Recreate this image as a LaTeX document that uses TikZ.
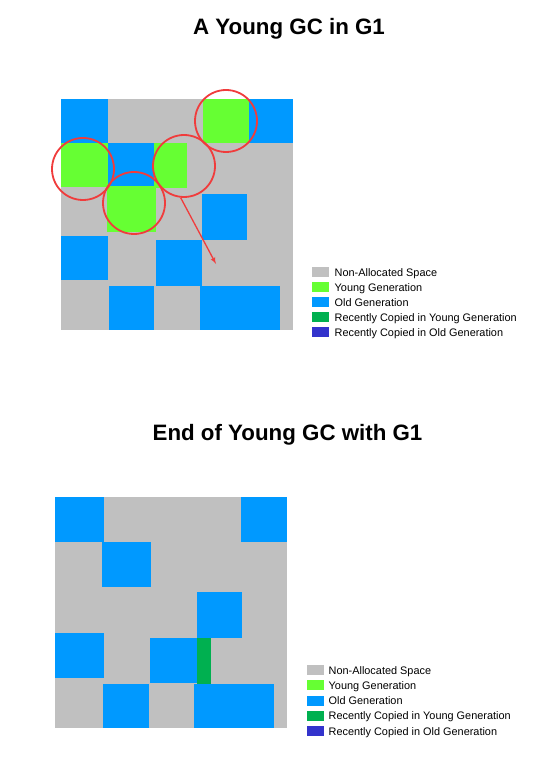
\documentclass[tikz,border=0pt]{standalone}
\usepackage{fontspec}
\setmainfont{Liberation Sans}
\usetikzlibrary{arrows}

\definecolor{freegray}{HTML}{C0C0C0}
\definecolor{younggreen}{HTML}{66FF33}
\definecolor{oldblue}{HTML}{0099FF}
\definecolor{copyyoung}{HTML}{00B050}
\definecolor{copyold}{HTML}{3333CC}
\definecolor{gcred}{HTML}{F03C3C}

\begin{document}
\begin{tikzpicture}
			[x=1pt,y=-1pt,every node/.style={inner sep=0pt},
			 title/.style={anchor=base,font=\fontsize{22.3}{26}\selectfont\bfseries},
			 ring/.style={circle,draw=gcred,line width=1.8pt,minimum size=62pt},
			 edge/.style={->,> = latex',draw=gcred,line width=1.3pt},
			 swatch/.style={minimum width=17pt,minimum height=10pt},
			 entry/.style={anchor=base west,font=\fontsize{10.9}{13}\selectfont}]
			\useasboundingbox (0,0) rectangle (558,759);
			
			% before the collection
			\node[title] (t1) at (289,35) {A Young GC in G1};
			\fill[freegray] (61,99) rectangle (293,330);
			\foreach \xa/\ya/\xb/\yb in {61/99/108/143,249/99/293/143,108/143/154/186,202/194/247/240,61/236/108/280,156/240/202/286,109/286/154/330,200/286/280/330}
			\fill[oldblue] (\xa,\ya) rectangle (\xb,\yb);
			\foreach \xa/\ya/\xb/\yb in {203/99/249/143,61/143/108/187,154/143/187/188,107/186/156/232}
			\fill[younggreen] (\xa,\ya) rectangle (\xb,\yb);
			
			\node[ring] (r1) at (226,121) {};
			\node[ring] (r2) at (83,169) {};
			\node[ring] (r3) at (184,166) {};
			\node[ring] (r4) at (134,203) {};
			\coordinate (dest) at (216,264);
			\draw[edge] (r3.-96) -- (dest);
			
			% after the collection
			\node[title] (t2) at (287.5,440) {End of Young GC with G1};
			\fill[freegray] (55,497) rectangle (287,728);
			\foreach \xa/\ya/\xb/\yb in {55/497/104/542,241/497/287/542,102/542/151/587,197/592/242/638,55/633/104/678,150/638/197/683,103/684/149/728,194/684/274/728}
			\fill[oldblue] (\xa,\ya) rectangle (\xb,\yb);
			\fill[copyyoung] (197,638) rectangle (211,684);
			
			% legends
			\foreach \col/\txt [count=\i] in {freegray/Non-Allocated Space,younggreen/Young Generation,oldblue/Old Generation,copyyoung/Recently Copied in Young Generation,copyold/Recently Copied in Old Generation}
			{
			\node[swatch,fill=\col] (sa\i) at (320.5,257+15*\i) {};
			\node[entry] (la\i) at (334.5,261+15*\i) {\txt};
			\node[swatch,fill=\col] (sb\i) at (315.5,655+15.2*\i) {};
			\node[entry] (lb\i) at (328.5,659+15.2*\i) {\txt};
			}
			\end{tikzpicture}
\end{document}
